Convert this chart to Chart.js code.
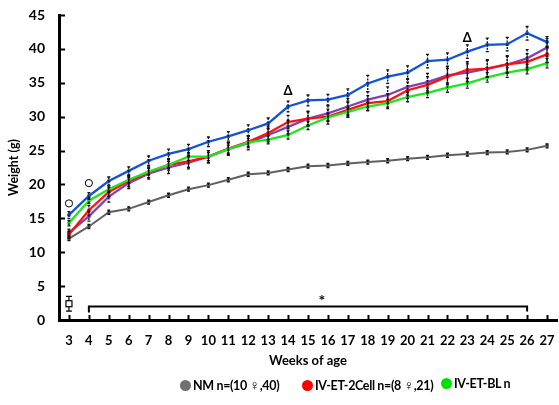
<!DOCTYPE html>
<html>
<head>
<meta charset="utf-8">
<script src="https://cdn.jsdelivr.net/npm/chart.js@4.4.1/dist/chart.umd.min.js"></script>
<style>
  html, body { margin: 0; padding: 0; background: #fff; overflow: hidden; }
  #wrap { position: relative; width: 559px; height: 405px; overflow: hidden; }
  #legend {
    position: absolute; left: 0; top: 376px; width: 559px; height: 20px;
    font: bold 12.5px Lato, sans-serif; color: #000; letter-spacing: -0.35px;
  }
  #legend span.item { position: absolute; top: 0; white-space: nowrap; }
  #legend span.dot {
    display: inline-block; width: 11px; height: 11px; border-radius: 50%;
    vertical-align: -1px; margin-right: 2px;
  }
  #legend span.fem { font-weight: normal; font-size: 14px; }
</style>
</head>
<body>
<div id="wrap">
  <canvas id="chart" width="559" height="405"></canvas>
  <div id="legend"></div>
</div>
<script>
'use strict'

//주차
const weeks = ['3','4','5','6','7','8','9','10','11','12','13','14','15','16','17','18','19','20','21','22','23','24','25','26','27'];
//NM
const nmVals = [12.0,13.8,15.9,16.4,17.4,18.4,19.3,19.9,20.7,21.5,21.7,22.2,22.7,22.8,23.1,23.3,23.5,23.8,24.0,24.3,24.5,24.7,24.8,25.1,25.7];
const nmErr = [0.3,0.3,0.3,0.3,0.3,0.3,0.3,0.3,0.3,0.3,0.3,0.3,0.3,0.3,0.3,0.3,0.3,0.3,0.3,0.3,0.3,0.3,0.3,0.3,0.3];
//IV-ET-2Cell
const cellVals = [12.6,16.2,18.9,20.5,21.8,22.9,23.4,24.1,25.3,26.3,27.6,29.2,29.7,30.0,31.0,32.0,32.3,33.9,34.7,35.9,36.9,37.1,37.7,38.1,39.2];
const cellErr = [0.5,0.7,0.7,0.8,0.8,0.8,0.9,0.9,0.9,0.9,1.0,1.0,1.0,1.1,1.1,1.1,1.1,1.2,1.2,1.2,1.2,1.2,1.2,1.2,1.2];
//IV-ET-BL
const blVals = [14.3,17.6,19.3,20.7,21.9,22.9,24.1,24.1,25.2,26.2,26.6,27.3,28.7,29.9,30.7,31.5,32.0,32.9,33.5,34.3,34.9,35.8,36.5,37.0,37.9];
const blErr = [0.4,0.4,0.5,0.5,0.5,0.5,0.6,0.6,0.6,0.6,0.6,0.6,0.6,0.6,0.6,0.6,0.6,0.7,0.7,0.7,0.7,0.7,0.7,0.7,0.7];
//파랑
const blueVals = [15.5,18.3,20.5,22.0,23.5,24.5,25.2,26.3,27.1,28.0,29.0,31.5,32.4,32.5,33.2,34.9,35.9,36.5,38.2,38.4,39.6,40.6,40.7,42.3,41.0];
const blueErr = [0.5,0.5,0.6,0.6,0.7,0.7,0.7,0.7,0.7,0.8,0.8,0.8,0.8,0.8,0.9,1.2,1.0,1.0,1.0,1.0,1.0,1.0,1.0,1.0,0.8];
//보라
const purpleVals = [12.9,15.3,18.2,20.2,21.6,22.5,23.2,24.1,25.2,26.1,27.3,28.5,29.7,30.5,31.5,32.5,33.2,34.4,35.1,36.1,36.5,37.1,37.7,38.6,40.2];
const purpleErr = [0.5,0.7,0.8,0.8,0.8,0.9,0.9,0.9,0.9,1.0,1.0,1.0,1.1,1.1,1.2,1.2,1.2,1.2,1.3,1.3,1.3,1.3,1.3,1.3,1.3];

//y축 눈금
const yTicks = [0,5,10,15,20,25,30,35,40,45];

//표시 (주, 값)
const circleMarks = [[3,17.2],[4,20.2]];
const deltaMarks = [[14,33.8],[23,41.7]];
const squareMark = [3,2.4,1.1];
const bracket = [4,26,2.0];
const starMark = [15.7,3.3];

const FONT = 'Lato, "Open Sans", sans-serif';

// 인덱스 변환 (주 -> 카테고리 인덱스)
function wi(w){ return w - 3; }

//에러바
const errorBarPlugin = {
	id: 'errorBars',
	afterDatasetsDraw(chart){
		const ctx = chart.ctx;
		const xs = chart.scales.x, ys = chart.scales.y;
		ctx.save();
		ctx.strokeStyle = '#111';
		ctx.lineWidth = 1.3;
		chart.data.datasets.forEach((ds) => {
			if(!ds.err) return;
			ds.data.forEach((v, i) => {
				const x = xs.getPixelForValue(i);
				const t = ys.getPixelForValue(v + ds.err[i]);
				const b = ys.getPixelForValue(v - ds.err[i]);
				ctx.setLineDash([2, 1.2]);
				ctx.beginPath(); ctx.moveTo(x, t); ctx.lineTo(x, b); ctx.stroke();
				ctx.setLineDash([]);
				ctx.beginPath();
				ctx.moveTo(x - 1.5, t); ctx.lineTo(x + 1.5, t);
				ctx.moveTo(x - 1.5, b); ctx.lineTo(x + 1.5, b);
				ctx.stroke();
			});
		});
		ctx.restore();
	}
};

//축 눈금 + 기호
const extrasPlugin = {
	id: 'extras',
	afterDraw(chart){
		const ctx = chart.ctx;
		const xs = chart.scales.x, ys = chart.scales.y;
		const area = chart.chartArea;
		ctx.save();
		ctx.strokeStyle = '#000';
		ctx.lineWidth = 2;
		// y 눈금 (안쪽)
		yTicks.forEach((t) => {
			const y = Math.round(ys.getPixelForValue(t)) + 0.5;
			ctx.beginPath(); ctx.moveTo(area.left, y); ctx.lineTo(area.left + 6, y); ctx.stroke();
		});
		// x 눈금 (위쪽)
		weeks.forEach((w, i) => {
			const x = Math.round(xs.getPixelForValue(i)) + 0.5;
			ctx.beginPath(); ctx.moveTo(x, area.bottom); ctx.lineTo(x, area.bottom - 5); ctx.stroke();
		});
		// 동그라미
		ctx.lineWidth = 1;
		circleMarks.forEach((m) => {
			ctx.beginPath();
			ctx.arc(xs.getPixelForValue(wi(m[0])), ys.getPixelForValue(m[1]), 3.6, 0, Math.PI * 2);
			ctx.stroke();
		});
		// 델타
		ctx.fillStyle = '#000';
		ctx.font = 'bold 13px ' + FONT;
		ctx.textAlign = 'center';
		ctx.textBaseline = 'middle';
		deltaMarks.forEach((m) => {
			ctx.fillText('\u0394', xs.getPixelForValue(wi(m[0])), ys.getPixelForValue(m[1]));
		});
		// 네모 + 에러바
		const sx = xs.getPixelForValue(wi(squareMark[0]));
		const sy = ys.getPixelForValue(squareMark[1]);
		const st = ys.getPixelForValue(squareMark[1] + squareMark[2]);
		const sb = ys.getPixelForValue(squareMark[1] - squareMark[2]);
		ctx.lineWidth = 1.2;
		ctx.beginPath();
		ctx.moveTo(sx, st); ctx.lineTo(sx, sb);
		ctx.moveTo(sx - 3, st); ctx.lineTo(sx + 3, st);
		ctx.moveTo(sx - 3, sb); ctx.lineTo(sx + 3, sb);
		ctx.stroke();
		ctx.fillStyle = '#fff';
		ctx.fillRect(sx - 3, sy - 3, 6, 6);
		ctx.strokeRect(sx - 3, sy - 3, 6, 6);
		// 괄호
		const bx1 = xs.getPixelForValue(wi(bracket[0]));
		const bx2 = xs.getPixelForValue(wi(bracket[1]));
		const by = ys.getPixelForValue(bracket[2]);
		ctx.lineWidth = 2;
		ctx.beginPath();
		ctx.moveTo(bx1, by + 6); ctx.lineTo(bx1, by); ctx.lineTo(bx2, by); ctx.lineTo(bx2, by + 5);
		ctx.stroke();
		// 별표
		ctx.fillStyle = '#000';
		ctx.font = 'bold 16px ' + FONT;
		ctx.fillText('*', xs.getPixelForValue(wi(starMark[0])), ys.getPixelForValue(starMark[1]) + 3);
		ctx.restore();
	}
};

function series(label, data, err, color, lw){
	return {
		label: label,
		data: data,
		err: err,
		borderColor: color,
		backgroundColor: color,
		borderWidth: lw,
		pointRadius: 2,
		pointHoverRadius: 2,
		pointBorderWidth: 0,
		tension: 0,
		fill: false
	};
}

const datasets = [
	series('NM n=(10 \u2640,40)', nmVals, nmErr, '#606060', 2),
	series('IV-ET-BL n', blVals, blErr, '#1ee51e', 2.3),
	series('IV-ET-2Cell n=(8 \u2640,21)', cellVals, cellErr, '#ff1010', 2.3),
	series('', purpleVals, purpleErr, '#7e44b4', 2.3),
	series('', blueVals, blueErr, '#1553d6', 2.3)
];

new Chart(document.getElementById('chart'), {
	type: 'line',
	data: { labels: weeks, datasets: datasets },
	options: {
		responsive: false,
		animation: false,
		layout: { padding: { left: 0, right: 1, top: 15, bottom: 36 } },
		plugins: { legend: { display: false }, tooltip: { enabled: false } },
		scales: {
			x: {
				type: 'category',
				offset: true,
				afterFit: (s) => { s.height = 49; s.paddingLeft = 0; s.paddingRight = 0; },
				grid: { display: false, drawTicks: false },
				border: { display: true, color: '#000', width: 3 },
				ticks: { color: '#000', font: { family: FONT, weight: 'bold', size: 13 }, padding: 13, maxRotation: 0, autoSkip: false },
				title: { display: true, text: 'Weeks of age', color: '#000', font: { family: FONT, weight: 'bold', size: 13 }, padding: { top: 0, bottom: 0 } }
			},
			y: {
				min: 0, max: 45,
				afterFit: (s) => { s.width = 59; s.paddingTop = 0; s.paddingBottom = 0; },
				grid: { display: false, drawTicks: false },
				border: { display: true, color: '#000', width: 3 },
				afterBuildTicks: (s) => { s.ticks = yTicks.map((v) => ({ value: v })); },
				ticks: { color: '#000', font: { family: FONT, weight: 'bold', size: 14 }, padding: 14 },
				title: { display: true, text: 'Weight (g)', color: '#000', font: { family: FONT, weight: 'bold', size: 12.5 }, padding: { top: 6.5, bottom: 0 } }
			}
		}
	},
	plugins: [errorBarPlugin, extrasPlugin]
});

//범례
const legendEl = document.getElementById('legend');
const legendOrder = [0, 2, 1];
const legendColors = ['#707070', '#ff0000', '#00e000'];
const legendLeft = [180, 302, 441];
legendOrder.forEach((idx, k) => {
	const ds = datasets[idx];
	const item = document.createElement('span');
	item.className = 'item';
	item.style.left = legendLeft[k] + 'px';
	const dot = document.createElement('span');
	dot.className = 'dot';
	dot.style.background = legendColors[k];
	item.appendChild(dot);
	const parts = ds.label.split('\u2640');
	item.appendChild(document.createTextNode(parts[0]));
	if(parts.length > 1){
		const f = document.createElement('span');
		f.className = 'fem';
		f.textContent = '\u2640';
		item.appendChild(f);
		item.appendChild(document.createTextNode(parts[1]));
	}
	legendEl.appendChild(item);
});
</script>
</body>
</html>
